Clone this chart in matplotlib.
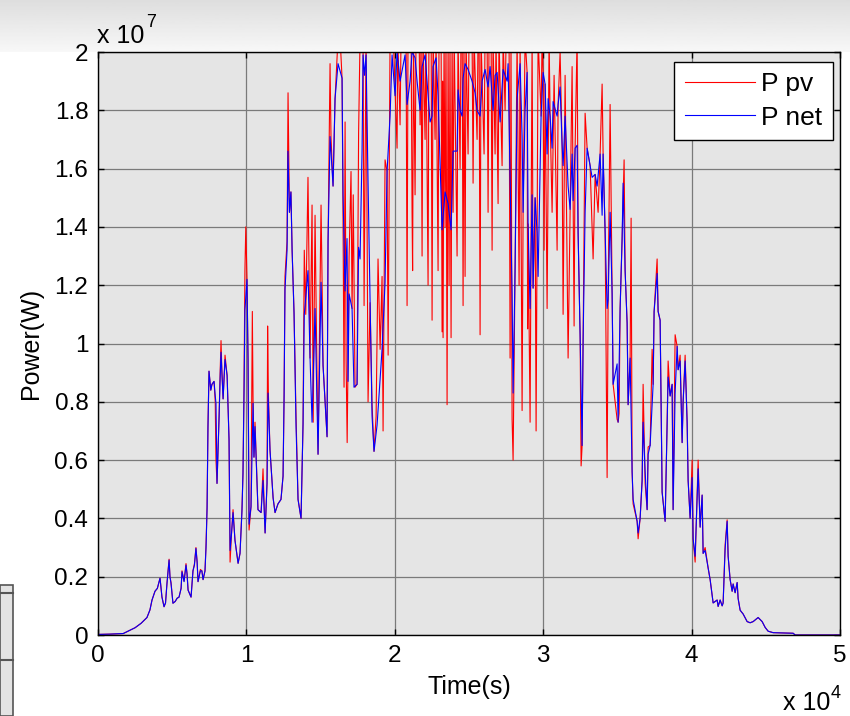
import numpy as np
import matplotlib.pyplot as plt
from matplotlib.ticker import FuncFormatter, MultipleLocator
from matplotlib.patches import Rectangle

plt.rcParams['font.family'] = ['Liberation Sans', 'DejaVu Sans']

# time in seconds, power in MW
t_net = [0, 800, 1700, 2100, 2500, 2900, 3300, 3500, 3640, 3840, 4000, 4180, 4310, 4450, 4550,
         4650, 4790, 4850, 4920, 5050, 5200, 5330, 5460, 5600, 5660, 5800, 5930, 6000, 6070, 6270,
         6400, 6500, 6600, 6680, 6740, 6900, 7000, 7080, 7210, 7280, 7350, 7410, 7480, 7600, 7680,
         7820, 7900, 7950, 8020, 8100, 8160, 8230, 8290, 8350, 8430, 8560, 8700, 8830, 8900, 9000,
         9100, 9230, 9440, 9570, 9700, 9770, 9840, 9900, 10040, 10110, 10180, 10310, 10450, 10510, 10580,
         10720, 10780, 10990, 11120, 11260, 11390, 11460, 11590, 11800, 11930, 12130, 12330, 12470, 12540, 12600,
         12740, 12800, 12900, 13000, 13080, 13210, 13345, 13480, 13682, 13817, 13900, 14150, 14289, 14424, 14626,
         14828, 15030, 15165, 15435, 15502, 15637, 15839, 15974, 16176, 16446, 16513, 16648, 16780, 16850, 16920,
         17120, 17250, 17457, 17560, 17659, 17794, 17861, 17960, 18063, 18198, 18333, 18468, 18600, 18805, 19142,
         19344, 19479, 19681, 19816, 20018, 20153, 20355, 20692, 20827, 21029, 21164, 21366, 21501, 21703, 21838,
         22040, 22377, 22512, 22579, 22781, 22916, 23051, 23186, 23388, 23590, 23792, 23927, 24197, 24264, 24399,
         24534, 24601, 24736, 24938, 25208, 25410, 25545, 25747, 25882, 26084, 26286, 26421, 26623, 26758, 26893,
         27095, 27297, 27567, 27634, 27769, 27904, 27971, 28106, 28241, 28443, 28578, 28645, 28780, 28915, 28982,
         29117, 29252, 29319, 29454, 29589, 29656, 29858, 29993, 30128, 30263, 30330, 30465, 30600, 30667, 30937,
         31004, 31139, 31274, 31341, 31476, 31678, 31813, 31948, 32015, 32150, 32285, 32352, 32487, 32622, 32689,
         32824, 32959, 33161, 33296, 33498, 33633, 33835, 33970, 34037, 34172, 34307, 34374, 34509, 34644, 34711,
         34981, 35048, 35183, 35318, 35385, 35520, 35655, 35722, 35857, 35992, 36059, 36329, 36396, 36531, 36666,
         36733, 36868, 37003, 37070, 37205, 37407, 37474, 37677, 37744, 37879, 38014, 38216, 38351, 38418, 38553,
         38688, 38755, 38890, 39025, 39092, 39227, 39362, 39429, 39564, 39699, 39766, 39901, 40036, 40103, 40238,
         40373, 40440, 40575, 40710, 40777, 40912, 41114, 41249, 41451, 41721, 41788, 41923, 42058, 42125, 42260,
         42395, 42462, 42597, 42732, 42799, 42934, 43069, 43136, 43271, 43473, 43743, 43945, 44147, 44484, 44754,
         44956, 45158, 45495, 46843, 46978, 50000]
p_net = [0.02, 0.03, 0.05, 0.15, 0.25, 0.4, 0.6, 0.86, 1.2, 1.5, 1.6, 1.95, 1.3, 0.97, 1.1,
         1.77, 2.57, 2.0, 1.77, 1.09, 1.15, 1.26, 1.3, 1.6, 2.17, 1.83, 2.4, 2.1, 1.54, 1.3,
         2.2, 2.4, 2.97, 2.5, 1.83, 2.2, 2.2, 1.9, 2.2, 3.0, 4.35, 7.1, 9.05, 8.4, 8.6,
         8.7, 8.2, 7.95, 5.2, 6.5, 7.5, 8.8, 9.7, 9.0, 8.1, 9.45, 8.9, 6.7, 2.9, 3.5,
         4.2, 3.25, 2.46, 2.8, 4.23, 5.55, 8.3, 11.15, 12.2, 9.45, 3.8, 4.4, 7.95, 6.1, 7.15,
         5.2, 4.3, 4.2, 5.3, 3.5, 5.2, 8.3, 6.35, 4.7, 4.2, 4.5, 4.65, 5.45, 8.2, 11.85,
         13.2, 16.6, 14.5, 15.2, 13.2, 11.05, 7.15, 4.65, 4.0, 7.25, 11.0, 12.5, 9.5, 7.3, 11.2,
         6.2, 12.1, 9.25, 6.8, 13.5, 17.1, 15.4, 18.4, 19.6, 19.1, 15.1, 11.8, 13.6, 8.7, 11.7,
         11.2, 8.5, 8.6, 13.3, 12.9, 16.6, 19.9, 19.2, 19.9, 15.5, 11.4, 7.5, 6.3, 7.2, 9.8,
         12.1, 15.9, 17.8, 19.9, 18.5, 20.0, 19.0, 19.9, 18.2, 19.0, 20.0, 19.8, 19.0, 18.0, 19.5,
         19.9, 17.6, 17.8, 19.5, 19.8, 18.5, 16.2, 13.9, 15.2, 14.8, 13.9, 16.6, 16.6, 18.7, 18.0,
         17.8, 19.1, 19.6, 19.4, 19.0, 18.6, 18.0, 17.8, 19.0, 19.4, 18.8, 19.5, 18.0, 19.2, 19.3,
         17.6, 19.4, 19.0, 19.6, 15.7, 11.7, 8.3, 12.6, 18.4, 19.6, 17.1, 14.5, 18.0, 19.3, 14.1,
         11.2, 15.1, 11.9, 15.0, 13.8, 12.3, 17.8, 19.3, 18.9, 16.5, 18.4, 17.8, 16.7, 18.3, 17.8,
         18.2, 18.8, 16.8, 16.1, 17.8, 15.4, 14.6, 16.5, 14.9, 16.7, 16.8, 13.8, 10.3, 6.5, 10.1,
         14.5, 16.7, 16.1, 15.7, 15.8, 15.4, 16.5, 14.4, 16.5, 13.8, 11.2, 11.5, 14.5, 11.7, 8.6,
         9.3, 7.3, 11.2, 13.6, 15.5, 12.5, 10.7, 7.9, 9.5, 5.6, 4.65, 3.9, 3.5, 4.0, 5.3,
         7.3, 5.6, 4.3, 6.2, 6.5, 8.6, 11.1, 12.4, 11.1, 10.8, 4.9, 3.9, 7.3, 8.85, 8.2,
         8.6, 4.3, 8.3, 9.9, 9.1, 9.4, 6.6, 8.0, 9.4, 7.3, 5.3, 4.0, 5.4, 3.3, 2.7,
         4.65, 5.7, 3.7, 4.8, 2.8, 2.9, 2.3, 1.9, 1.1, 1.2, 0.98, 1.2, 1.0, 1.1, 2.95,
         3.9, 2.7, 1.9, 1.5, 1.75, 1.45, 1.8, 1.25, 0.85, 0.72, 0.46, 0.42, 0.46, 0.6, 0.46,
         0.26, 0.13, 0.08, 0.06, 0.0, 0.0]

t_pv = [0, 800, 1700, 2100, 2500, 2900, 3300, 3500, 3640, 3840, 4000, 4180, 4310, 4450, 4550,
        4650, 4790, 4850, 4920, 5050, 5200, 5330, 5460, 5600, 5660, 5800, 5930, 6000, 6070, 6270,
        6400, 6500, 6600, 6680, 6740, 6900, 7000, 7080, 7210, 7280, 7350, 7410, 7480, 7600, 7680,
        7820, 7900, 7950, 8020, 8100, 8160, 8230, 8290, 8350, 8430, 8560, 8700, 8830, 8900, 9000,
        9100, 9230, 9440, 9570, 9700, 9770, 9840, 9900, 9960, 10040, 10110, 10180, 10310, 10400, 10450,
        10510, 10580, 10720, 10780, 10990, 11120, 11260, 11390, 11430, 11480, 11590, 11800, 11930, 12130, 12330,
        12470, 12540, 12600, 12740, 12806, 12870, 12900, 13000, 13080, 13210, 13345, 13480, 13682, 13817, 13900,
        14000, 14150, 14289, 14424, 14500, 14626, 14700, 14828, 15030, 15100, 15165, 15435, 15502, 15637, 15700,
        15839, 15974, 16176, 16311, 16446, 16513, 16580, 16650, 16720, 16790, 16920, 17050, 17120, 17200, 17320,
        17457, 17560, 17659, 17794, 17861, 17930, 18063, 18198, 18333, 18468, 18600, 18740, 18870, 19010, 19142,
        19210, 19344, 19479, 19550, 19681, 19900, 20153, 20200, 20355, 20420, 20760, 20827, 20890, 21100, 21164,
        21200, 21260, 21366, 21430, 21640, 21703, 21770, 21838, 21900, 22040, 22100, 22242, 22300, 22450, 22512,
        22580, 22714, 22780, 22916, 22980, 23120, 23186, 23220, 23253, 23320, 23388, 23450, 23523, 23590, 23657,
        23720, 23792, 23860, 23927, 24000, 24197, 24260, 24399, 24460, 24540, 24601, 24660, 24736, 24800, 24938,
        25000, 25208, 25275, 25340, 25545, 25610, 25680, 25747, 25810, 26016, 26080, 26220, 26286, 26350, 26490,
        26556, 26620, 26758, 26820, 26960, 27020, 27230, 27300, 27432, 27500, 27700, 27769, 27830, 27904, 27971,
        28106, 28241, 28375, 28443, 28578, 28645, 28780, 28915, 28950, 28982, 29117, 29252, 29319, 29454, 29521,
        29589, 29656, 29858, 29926, 29993, 30060, 30128, 30263, 30397, 30465, 30600, 30734, 30937, 31004, 31139,
        31274, 31341, 31476, 31678, 31813, 31948, 32015, 32082, 32150, 32285, 32352, 32487, 32554, 32622, 32689,
        32824, 32959, 33161, 33363, 33498, 33700, 33835, 33970, 34037, 34172, 34307, 34374, 34509, 34644, 34711,
        34981, 35048, 35115, 35183, 35318, 35452, 35520, 35655, 35722, 35857, 35924, 35992, 36059, 36329, 36396,
        36531, 36666, 36733, 36868, 37003, 37070, 37205, 37340, 37407, 37474, 37677, 37744, 37879, 38014, 38216,
        38351, 38418, 38553, 38688, 38755, 38890, 39025, 39092, 39227, 39362, 39429, 39564, 39699, 39766, 39901,
        40036, 40103, 40238, 40373, 40440, 40575, 40710, 40777, 40912, 41114, 41249, 41451, 41721, 41788, 41923,
        42058, 42125, 42260, 42395, 42462, 42597, 42732, 42799, 42934, 43069, 43136, 43271, 43473, 43743, 43945,
        44147, 44484, 44754, 44956, 45158, 45495, 46843, 46978, 50000]
p_pv = [0.02, 0.03, 0.05, 0.15, 0.25, 0.4, 0.6, 0.86, 1.2, 1.5, 1.6, 1.95, 1.3, 0.97, 1.1,
        1.8, 2.6, 2.0, 1.8, 1.09, 1.15, 1.26, 1.3, 1.6, 2.2, 1.85, 2.45, 2.1, 1.54, 1.3,
        2.2, 2.45, 3.0, 2.5, 1.83, 2.25, 2.2, 1.9, 2.2, 3.1, 4.4, 7.2, 9.05, 8.4, 8.6,
        8.7, 8.0, 6.0, 5.2, 6.5, 7.5, 9.0, 10.1, 9.0, 8.1, 9.6, 8.9, 6.7, 2.5, 3.5,
        4.3, 3.25, 2.46, 2.8, 4.3, 5.55, 8.5, 12.5, 14.0, 12.2, 9.45, 3.6, 4.4, 11.1, 7.95,
        6.1, 7.3, 5.2, 4.3, 4.2, 5.7, 3.5, 5.2, 10.6, 8.3, 6.35, 4.7, 4.2, 4.5, 4.65,
        5.45, 8.2, 12.3, 13.5, 18.6, 16.0, 14.5, 15.2, 13.2, 11.05, 7.5, 4.65, 4.0, 7.25, 13.2,
        11.0, 15.7, 9.5, 14.75, 7.3, 14.4, 11.2, 6.2, 14.75, 12.1, 9.25, 6.8, 13.5, 19.6, 17.1,
        15.4, 18.4, 20.5, 20.5, 19.1, 14.2, 8.5, 17.6, 9.4, 6.6, 13.0, 15.9, 11.2, 15.1, 8.5,
        8.6, 17.2, 20.5, 20.5, 20.5, 11.3, 20.5, 8.0, 11.4, 7.9, 6.3, 7.5, 12.9, 9.8, 12.3,
        7.0, 16.3, 15.9, 9.6, 20.5, 20.5, 16.7, 20.5, 17.5, 20.5, 20.5, 11.3, 20.5, 20.5, 14.5,
        12.5, 20.5, 15.1, 20.5, 20.5, 17.5, 20.5, 13.0, 20.5, 17.0, 20.5, 12.0, 20.5, 20.5, 10.8,
        20.5, 17.0, 20.5, 12.5, 20.5, 20.5, 10.4, 19.0, 10.2, 20.5, 14.0, 20.5, 7.9, 20.5, 12.0,
        20.5, 10.2, 20.5, 14.5, 20.5, 13.0, 20.5, 16.0, 20.5, 20.5, 11.3, 20.5, 12.3, 20.5, 16.5,
        20.5, 20.5, 15.5, 20.5, 17.0, 20.5, 20.5, 10.3, 20.5, 16.5, 20.5, 20.5, 14.5, 20.5, 20.5,
        13.2, 20.5, 16.5, 20.5, 14.8, 20.5, 16.1, 20.5, 18.0, 20.5, 20.5, 9.5, 20.5, 7.4, 6.0,
        12.6, 20.5, 12.0, 20.5, 7.7, 14.5, 20.5, 19.3, 10.5, 14.1, 7.3, 20.5, 11.9, 15.0, 7.0,
        13.8, 20.5, 17.8, 20.5, 19.3, 13.2, 18.9, 11.2, 20.5, 17.8, 14.5, 19.2, 13.2, 18.2, 20.0,
        16.8, 11.0, 19.2, 9.5, 14.6, 19.5, 14.9, 10.6, 16.7, 20.5, 13.8, 10.3, 5.8, 6.5, 10.1,
        17.9, 16.7, 16.1, 12.9, 15.8, 14.5, 16.5, 18.9, 16.5, 13.8, 5.4, 11.5, 18.2, 11.7, 8.6,
        7.4, 7.3, 7.6, 11.2, 13.6, 16.3, 12.5, 10.7, 7.9, 9.5, 14.3, 5.6, 4.5, 3.9, 3.3,
        4.0, 5.3, 8.6, 5.2, 4.3, 6.45, 6.5, 9.8, 8.6, 11.1, 12.9, 11.1, 10.8, 4.9, 3.9,
        7.3, 9.4, 8.2, 8.6, 4.3, 10.3, 9.9, 9.1, 9.6, 6.6, 8.0, 9.6, 7.3, 5.3, 4.0,
        6.0, 3.3, 2.5, 4.8, 6.0, 3.7, 4.8, 2.8, 3.0, 2.3, 1.9, 1.1, 1.2, 0.98, 1.2,
        1.0, 1.1, 3.1, 3.95, 2.7, 1.9, 1.5, 1.75, 1.45, 1.8, 1.25, 0.85, 0.72, 0.46, 0.42,
        0.46, 0.6, 0.46, 0.26, 0.13, 0.08, 0.06, 0.0, 0.0]

fig = plt.figure(figsize=(8.5, 7.16), dpi=100)

# light grey band across the top of the window
band = fig.add_axes([0, 1 - 52 / 716, 1, 52 / 716], zorder=-10)
band.imshow(np.linspace(0.87, 0.97, 40).reshape(-1, 1), cmap='gray', vmin=0, vmax=1,
            aspect='auto', extent=[0, 1, 0, 1])
band.axis('off')
fig.patches.append(Rectangle((0, 0), 13 / 850, 131 / 716, transform=fig.transFigure,
                             facecolor='#e3e3e3', edgecolor='#555555', lw=1.2))
fig.lines.append(plt.Line2D([0, 13 / 850], [1 - 593 / 716] * 2, transform=fig.transFigure,
                            color='#555555', lw=1.5))
fig.lines.append(plt.Line2D([0, 13 / 850], [1 - 660 / 716] * 2, transform=fig.transFigure,
                            color='#555555', lw=1.5))

ax = fig.add_axes([98 / 850, 81 / 716, 742 / 850, 583 / 716])
ax.set_facecolor('#e5e5e5')
ax.plot(np.array(t_pv), np.array(p_pv) * 1e6, color='#ff0000', lw=0.8, label='P pv')
ax.plot(np.array(t_net), np.array(p_net) * 1e6, color='#0000ff', lw=0.8, label='P net')

ax.set_xlim(0, 5e4)
ax.set_ylim(0, 2e7)
ax.xaxis.set_major_locator(MultipleLocator(1e4))
ax.yaxis.set_major_locator(MultipleLocator(2e6))
ax.xaxis.set_major_formatter(FuncFormatter(lambda v, pos: f'{v / 1e4:g}'))
ax.yaxis.set_major_formatter(FuncFormatter(lambda v, pos: f'{v / 1e7:g}'))
ax.tick_params(direction='in', top=True, right=True, length=4, width=1, labelsize=17.5, pad=7)
ax.grid(True, color='#7a7a7a', lw=0.9)
ax.set_axisbelow(True)
for s in ax.spines.values():
    s.set_linewidth(1.0)
    s.set_color('black')

ax.set_xlabel('Time(s)', fontsize=18, labelpad=6)
ax.set_ylabel('Power(W)', fontsize=18, labelpad=8)

fig.text(97 / 850, 1 - 43 / 716, 'x 10', fontsize=18, ha='left', va='baseline')
fig.text(146 / 850, 1 - 27 / 716, '7', fontsize=13, ha='left', va='baseline')
fig.text(783 / 850, 1 / 716, 'x 10', fontsize=18, ha='left', va='bottom')
fig.text(831 / 850, 18 / 716, '4', fontsize=13, ha='left', va='baseline')

leg = ax.legend(loc='upper right', bbox_to_anchor=(0.9906, 0.983), borderaxespad=0,
                fontsize=19, fancybox=False, framealpha=1, edgecolor='black',
                handlelength=2.65, handletextpad=0.25, labelspacing=0.35, borderpad=0.4)
leg.get_frame().set_linewidth(1.0)

fig.savefig('out.png', dpi=100)
